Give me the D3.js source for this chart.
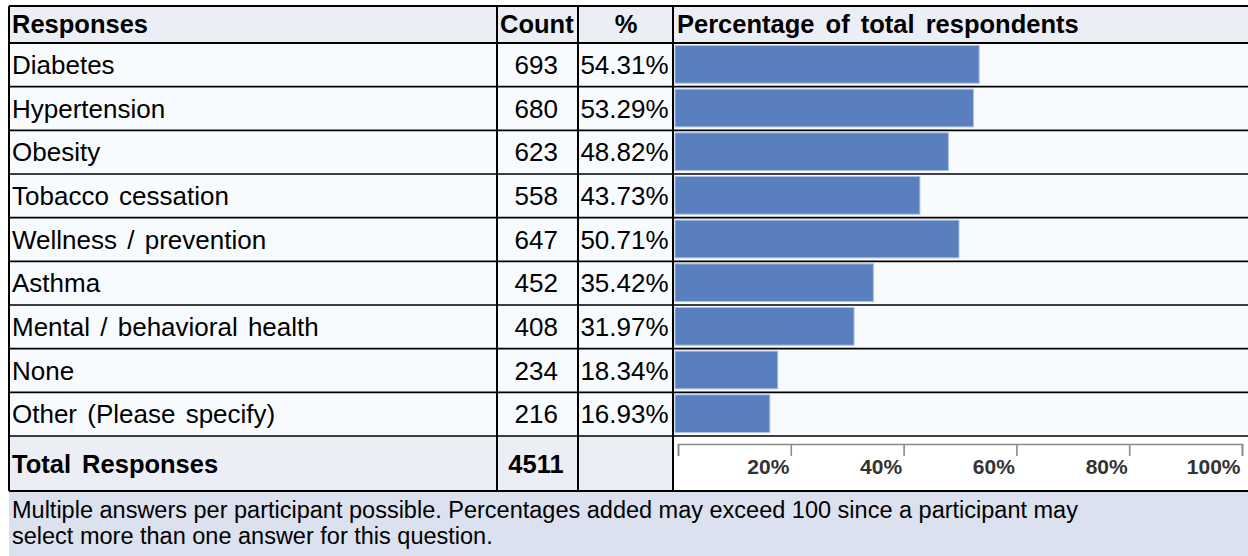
<!DOCTYPE html>
<html>
<head>
<meta charset="utf-8">
<script src="https://cdn.jsdelivr.net/npm/d3@7"></script>
<style>
  html, body { margin: 0; padding: 0; background: #ffffff; }
  svg { display: block; font-family: "Liberation Sans", Arial, Helvetica, sans-serif; }
</style>
</head>
<body>
<svg id="chart" width="1248" height="556"></svg>
<script>
// Survey responses: multiple answers allowed per participant
const responses = [
  "Diabetes",
  "Hypertension",
  "Obesity",
  "Tobacco cessation",
  "Wellness / prevention",
  "Asthma",
  "Mental / behavioral health",
  "None",
  "Other (Please specify)"
];
const counts = [693, 680, 623, 558, 647, 452, 408, 234, 216];
const percents = [54.31, 53.29, 48.82, 43.73, 50.71, 35.42, 31.97, 18.34, 16.93];
const totalResponses = 4511;
const axisTicks = [0, 20, 40, 60, 80, 100];
const headers = ["Responses", "Count", "%", "Percentage of total respondents"];
const footnote = [
  "Multiple answers per participant possible. Percentages added may exceed 100 since a participant may",
  "select more than one answer for this question."
];

const svg = d3.select("#chart");

// table layout
const colX = [9, 497, 578, 673, 1260];
const headerTop = 6, headerBottom = 43;
const rowsBottom = 436;
const totalBottom = 491;
const headFont = 25.5, rowFont = 26, noteFont = 23.5;

const y = d3.scaleBand()
  .domain(responses)
  .range([headerBottom, rowsBottom])
  .paddingInner(0);

const x = d3.scaleLinear().domain([0, 100]).range([675, 1235]);
const axisX = d3.scaleLinear().domain([0, 100]).range([678, 1242]);

// backgrounds
svg.append("rect").attr("x", 0).attr("y", 0).attr("width", 1248).attr("height", 556).attr("fill", "#ffffff");
svg.append("rect").attr("x", colX[0]).attr("y", headerTop).attr("width", 1260).attr("height", headerBottom - headerTop).attr("fill", "#eceef6");
svg.append("rect").attr("x", colX[0]).attr("y", headerBottom).attr("width", 1260).attr("height", rowsBottom - headerBottom).attr("fill", "#f8fbfd");
svg.append("rect").attr("x", colX[0]).attr("y", rowsBottom).attr("width", colX[3] - colX[0]).attr("height", totalBottom - rowsBottom).attr("fill", "#eceef6");
svg.append("rect").attr("x", colX[3]).attr("y", rowsBottom).attr("width", 1260).attr("height", totalBottom - rowsBottom).attr("fill", "#ffffff");
svg.append("rect").attr("x", colX[0]).attr("y", totalBottom).attr("width", 1260).attr("height", 600).attr("fill", "#dbe1ee");

// bars
svg.append("g").selectAll("rect")
  .data(responses)
  .join("rect")
  .attr("x", x(0))
  .attr("y", d => y(d) + 2.5)
  .attr("width", (d, i) => x(percents[i]) - x(0))
  .attr("height", y.bandwidth() - 6)
  .attr("fill", "#5a7fbe")
  .attr("stroke", "#a9bfe3")
  .attr("stroke-width", 1);

// grid lines
const lines = svg.append("g").attr("stroke", "#000");
responses.slice(1).forEach(r => {
  lines.append("line").attr("x1", colX[0]).attr("x2", 1260)
    .attr("y1", y(r)).attr("y2", y(r)).attr("stroke-width", 1.6);
});
[headerTop, headerBottom, rowsBottom, totalBottom].forEach((yy, i) => {
  lines.append("line").attr("x1", colX[0]).attr("x2", 1260)
    .attr("y1", yy).attr("y2", yy).attr("stroke-width", i === 2 ? 1.6 : 2.2);
});
colX.slice(0, 4).forEach(xx => {
  lines.append("line").attr("x1", xx).attr("x2", xx)
    .attr("y1", headerTop).attr("y2", totalBottom).attr("stroke-width", 2);
});

// header text
const hdr = svg.append("g").attr("font-weight", "bold").attr("font-size", headFont)
  .attr("word-spacing", 4).attr("fill", "#000");
hdr.append("text").attr("x", 12).attr("y", 33).text(headers[0]);
hdr.append("text").attr("x", 500).attr("y", 33).text(headers[1]);
hdr.append("text").attr("x", 626).attr("y", 33).attr("text-anchor", "middle").text(headers[2]);
hdr.append("text").attr("x", 677).attr("y", 33).text(headers[3]);

// row text
const rows = svg.append("g").attr("font-size", rowFont).attr("word-spacing", 3).attr("fill", "#000");
rows.selectAll("text.label").data(responses).join("text")
  .attr("class", "label")
  .attr("x", 12)
  .attr("y", d => y(d) + y.bandwidth() / 2 + 9.3)
  .text(d => d);
rows.selectAll("text.count").data(responses).join("text")
  .attr("class", "count")
  .attr("x", 558)
  .attr("text-anchor", "end")
  .attr("y", d => y(d) + y.bandwidth() / 2 + 9.3)
  .text((d, i) => counts[i]);
rows.selectAll("text.pct").data(responses).join("text")
  .attr("class", "pct")
  .attr("x", 624.5)
  .attr("text-anchor", "middle")
  .attr("y", d => y(d) + y.bandwidth() / 2 + 9.3)
  .text((d, i) => percents[i].toFixed(2) + "%");

// total row
const tot = svg.append("g").attr("font-weight", "bold").attr("font-size", headFont)
  .attr("word-spacing", 4).attr("fill", "#000");
tot.append("text").attr("x", 12).attr("y", 473).text("Total Responses");
tot.append("text").attr("x", 536).attr("y", 473).attr("text-anchor", "middle").text(totalResponses);

// percentage axis
const axis = d3.axisBottom(axisX)
  .tickValues(axisTicks)
  .tickSize(12)
  .tickSizeOuter(12)
  .tickFormat(d => d === 0 ? "" : d + "%");
const ax = svg.append("g").attr("transform", "translate(0,444)").call(axis);
ax.select(".domain").attr("stroke", "#8a8a8a").attr("stroke-width", 1.6);
ax.selectAll(".tick line").attr("stroke", "#8a8a8a").attr("stroke-width", 1.6);
ax.selectAll(".tick text")
  .attr("x", -2)
  .attr("y", 30)
  .attr("dy", null)
  .attr("text-anchor", "end")
  .attr("fill", "#333333")
  .attr("font-family", "'Liberation Sans', Arial, sans-serif")
  .attr("font-weight", "bold")
  .attr("font-size", 21);

// footnote
svg.append("g").attr("font-size", noteFont).attr("fill", "#000")
  .selectAll("text").data(footnote).join("text")
  .attr("x", 12)
  .attr("y", (d, i) => 517.5 + i * 26.5)
  .text(d => d);
</script>
</body>
</html>
